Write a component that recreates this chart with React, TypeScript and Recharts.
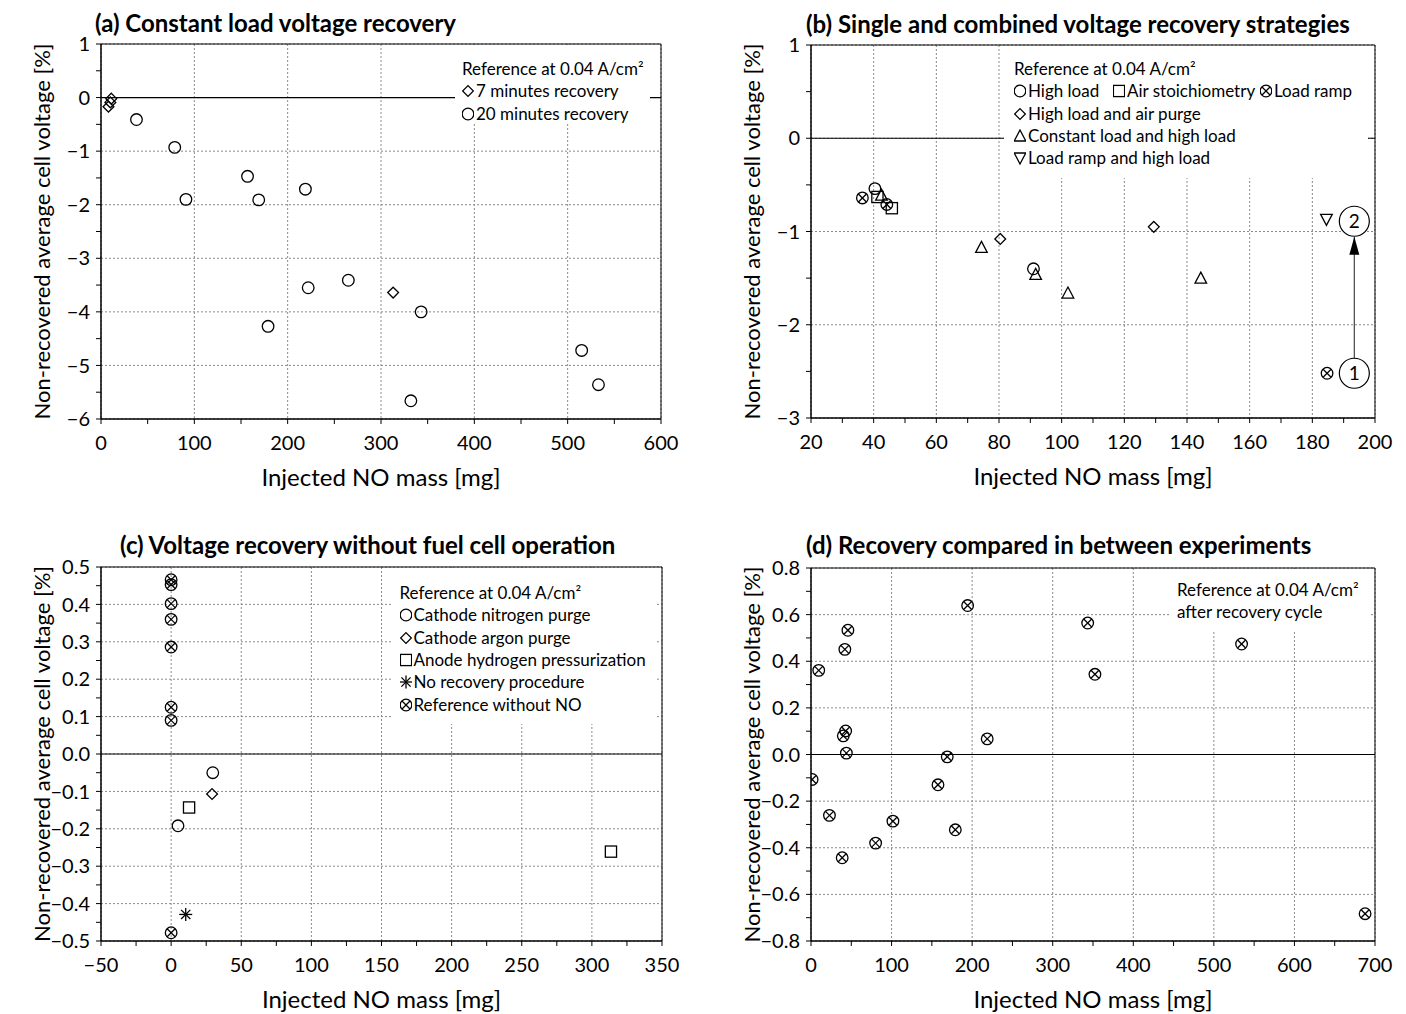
import React from "react";
import {
  ScatterChart,
  Scatter,
  XAxis,
  YAxis,
  CartesianGrid,
  ReferenceLine,
  ReferenceArea,
  Label,
} from "recharts";

const FONT = "Lato, 'Open Sans', sans-serif";

// (a) constant load voltage recovery  [NO mass mg, voltage %]
const aSevenMin = [[11, -0.02], [10, -0.09], [8, -0.17], [313, -3.64]];
const aTwentyMin = [
  [38, -0.41], [79, -0.93], [91, -1.9], [157, -1.47], [169, -1.91], [219, -1.71],
  [222, -3.55], [265, -3.41], [179, -4.27], [343, -4.0], [332, -5.66], [515, -4.72], [533, -5.36],
];

// (b) single and combined strategies
const bHighLoad = [[40.4, -0.54], [91, -1.4]];
const bAirStoich = [[41.2, -0.63], [45.8, -0.75]];
const bLoadRamp = [[36.4, -0.64], [44.2, -0.71], [184.7, -2.52]];
const bHighLoadAir = [[80.4, -1.08], [129.4, -0.95]];
const bConstHigh = [[42.5, -0.61], [74.4, -1.17], [91.7, -1.46], [102, -1.66], [144.4, -1.5]];
const bRampHigh = [[184.5, -0.87]];
const bSteps = [[193.4, -2.52, "1"], [193.4, -0.89, "2"]];
const bArrow = [[193.4, -2.36], [193.4, -1.055]];

// (c) recovery without fuel cell operation
const cNitrogen = [[29.7, -0.05], [4.9, -0.192]];
const cArgon = [[29.2, -0.107]];
const cHydrogen = [[12.8, -0.143], [313.6, -0.261]];
const cNoRecovery = [[10.4, -0.429]];
const cRefNoNO = [[0, 0.466], [0, 0.453], [0, 0.402], [0, 0.36], [0, 0.286], [0, 0.125], [0, 0.09], [0, -0.478]];

// (d) recovery compared between experiments
const dRef = [
  [194.4, 0.639], [45.8, 0.533], [42, 0.451], [9.6, 0.361], [343.4, 0.564], [352.4, 0.344],
  [534.4, 0.474], [43, 0.101], [40.1, 0.08], [43.9, 0.006], [218.7, 0.067], [169.1, -0.01],
  [1.4, -0.107], [157.6, -0.13], [22.9, -0.261], [101.7, -0.286], [179.1, -0.323],
  [80.2, -0.38], [38.7, -0.443], [687.7, -0.683],
];

// axis ticks (labelled ones; minor ticks go half way between)
const aXMajor = [0, 100, 200, 300, 400, 500, 600];
const aYMajor = [-6, -5, -4, -3, -2, -1, 0, 1];
const bXMajor = [20, 40, 60, 80, 100, 120, 140, 160, 180, 200];
const bYMajor = [-3, -2, -1, 0, 1];
const cXMajor = [-50, 0, 50, 100, 150, 200, 250, 300, 350];
const cYMajor = [-0.5, -0.4, -0.3, -0.2, -0.1, 0, 0.1, 0.2, 0.3, 0.4, 0.5];
const dXMajor = [0, 100, 200, 300, 400, 500, 600, 700];
const dYMajor = [-0.8, -0.6, -0.4, -0.2, 0, 0.2, 0.4, 0.6, 0.8];

const withMinor = (major: number[]) =>
  major.flatMap((v, i) => (i < major.length - 1 ? [v, (v + major[i + 1]) / 2] : [v]));

const pts = (arr: any[]) => arr.map((p) => ({ x: p[0], y: p[1], n: p[2] }));

const neg = (s: string) => s.replace("-", "\u2212");
const intFmt = (v: number) => neg(String(v));
const oneDec = (v: number) => neg(v.toFixed(1));

type Kind = "circle" | "diamond" | "square" | "cross" | "up" | "down" | "star";

function Mark({ kind, cx, cy }: { kind: Kind; cx: number; cy: number }) {
  const s = { fill: "none", stroke: "#000", strokeWidth: 1.3 };
  if (kind === "circle") return <circle cx={cx} cy={cy} r={5.8} {...s} />;
  if (kind === "diamond")
    return <polygon points={`${cx},${cy - 5.4} ${cx + 5.4},${cy} ${cx},${cy + 5.4} ${cx - 5.4},${cy}`} {...s} />;
  if (kind === "square") return <rect x={cx - 5.6} y={cy - 5.6} width={11.2} height={11.2} {...s} />;
  if (kind === "up")
    return <polygon points={`${cx},${cy - 6} ${cx + 5.8},${cy + 5} ${cx - 5.8},${cy + 5}`} {...s} />;
  if (kind === "down")
    return <polygon points={`${cx},${cy + 6} ${cx + 5.8},${cy - 5} ${cx - 5.8},${cy - 5}`} {...s} />;
  if (kind === "star")
    return (
      <g {...s}>
        <line x1={cx} y1={cy - 6.5} x2={cx} y2={cy + 6.5} />
        <line x1={cx - 6.5} y1={cy} x2={cx + 6.5} y2={cy} />
        <line x1={cx - 4.6} y1={cy - 4.6} x2={cx + 4.6} y2={cy + 4.6} />
        <line x1={cx - 4.6} y1={cy + 4.6} x2={cx + 4.6} y2={cy - 4.6} />
      </g>
    );
  return (
    <g {...s}>
      <circle cx={cx} cy={cy} r={5.8} />
      <line x1={cx - 4} y1={cy - 4} x2={cx + 4} y2={cy + 4} />
      <line x1={cx - 4} y1={cy + 4} x2={cx + 4} y2={cy - 4} />
    </g>
  );
}

const shapeOf = (kind: Kind) => (p: any) => <Mark kind={kind} cx={p.cx} cy={p.cy} />;

function Key({ kind, text, width }: { kind?: Kind; text: string; width?: number }) {
  return (
    <span style={{ display: "inline-flex", alignItems: "center", width }}>
      {kind && (
        <svg width={12} height={14} style={{ marginRight: 2, flex: "none" }}>
          <Mark kind={kind} cx={6} cy={7} />
        </svg>
      )}
      <span>{text}</span>
    </span>
  );
}

function LegendBox({ box, rows }: { box: any; rows: React.ReactNode[] }) {
  return (
    <div
      style={{
        position: "absolute",
        left: box.left,
        top: box.top,
        width: box.width,
        height: box.height,
        background: "#fff",
        boxSizing: "border-box",
        paddingTop: box.pt,
        paddingLeft: box.pl,
        fontFamily: FONT,
        fontSize: 17,
        color: "#000",
        whiteSpace: "nowrap",
      }}
    >
      {rows.map((r, i) => (
        <div key={i} style={{ height: 22.3, lineHeight: "22px", display: "flex", alignItems: "center" }}>
          {r}
        </div>
      ))}
    </div>
  );
}

function Panel(props: any) {
  const { left, top, title, titleLeft, titleTop, xMajor, yMajor, yFmt, mTop, mRight, mBottom, children, legend } = props;
  const xDom = [xMajor[0], xMajor[xMajor.length - 1]];
  const yDom = [yMajor[0], yMajor[yMajor.length - 1]];
  const tickStyle = { fontSize: 20, fill: "#000", fontFamily: FONT };
  return (
    <div style={{ position: "absolute", left, top, width: 696, height: 490 }}>
      <ScatterChart width={696} height={490} margin={{ top: mTop, right: mRight, bottom: mBottom, left: 0 }}>
        <CartesianGrid
          stroke="#8a8a8a"
          strokeDasharray="2 2"
          verticalValues={xMajor}
          horizontalValues={yMajor}
        />
        <XAxis
          type="number"
          dataKey="x"
          domain={xDom}
          ticks={withMinor(xMajor)}
          tickFormatter={(v: number) => (xMajor.includes(v) ? intFmt(v) : "")}
          interval={0}
          height={67}
          tickSize={5}
          tickMargin={12}
          tick={tickStyle}
          stroke="#000"
          allowDataOverflow
        >
          <Label
            value="Injected NO mass [mg]"
            position="insideBottom"
            offset={0}
            style={{ fontSize: 24, fill: "#000", fontFamily: FONT }}
          />
        </XAxis>
        <YAxis
          type="number"
          dataKey="y"
          domain={yDom}
          ticks={withMinor(yMajor)}
          tickFormatter={(v: number) => (yMajor.includes(v) ? yFmt(v) : "")}
          interval={0}
          width={101}
          tickSize={5}
          tickMargin={6}
          tick={tickStyle}
          stroke="#000"
          allowDataOverflow
        >
          <Label
            value="Non-recovered average cell voltage [%]"
            angle={-90}
            position="insideLeft"
            offset={42}
            style={{ fontSize: 22, fill: "#000", fontFamily: FONT, textAnchor: "middle" }}
          />
        </YAxis>
        <ReferenceLine y={0} stroke="#000" strokeWidth={1.2} />
        <ReferenceArea x1={xDom[0]} x2={xDom[1]} y1={yDom[0]} y2={yDom[1]} fill="none" stroke="#000" ifOverflow="visible" />
        {children}
      </ScatterChart>
      <div
        style={{
          position: "absolute",
          left: titleLeft,
          top: titleTop,
          fontFamily: FONT,
          fontWeight: 700,
          fontSize: 24,
          lineHeight: "28px",
          color: "#000",
          whiteSpace: "nowrap",
        }}
      >
        {title}
      </div>
      {legend}
    </div>
  );
}

const REF = "Reference at 0.04 A/cm²";

export default function App() {
  return (
    <div style={{ position: "absolute", left: 0, top: 0, width: 1406, height: 1014, background: "#fff" }}>
      <Panel
        left={0}
        top={0}
        title="(a) Constant load voltage recovery"
        titleLeft={95}
        titleTop={9}
        xMajor={aXMajor}
        yMajor={aYMajor}
        yFmt={intFmt}
        mTop={44}
        mRight={35}
        mBottom={4}
        legend={
          <LegendBox
            box={{ left: 455, top: 45, width: 195, height: 77, pt: 13, pl: 7 }}
            rows={[
              <Key text={REF} />,
              <Key kind="diamond" text="7 minutes recovery" />,
              <Key kind="circle" text="20 minutes recovery" />,
            ]}
          />
        }
      >
        <Scatter data={pts(aSevenMin)} shape={shapeOf("diamond")} isAnimationActive={false} />
        <Scatter data={pts(aTwentyMin)} shape={shapeOf("circle")} isAnimationActive={false} />
      </Panel>

      <Panel
        left={710}
        top={0}
        title="(b) Single and combined voltage recovery strategies"
        titleLeft={96}
        titleTop={10}
        xMajor={bXMajor}
        yMajor={bYMajor}
        yFmt={intFmt}
        mTop={45}
        mRight={31}
        mBottom={5}
        legend={
          <LegendBox
            box={{ left: 294, top: 46, width: 364, height: 132, pt: 12, pl: 10 }}
            rows={[
              <Key text={REF} />,
              <>
                <Key kind="circle" text="High load" width={99} />
                <Key kind="square" text="Air stoichiometry" width={147} />
                <Key kind="cross" text="Load ramp" />
              </>,
              <Key kind="diamond" text="High load and air purge" />,
              <Key kind="up" text="Constant load and high load" />,
              <Key kind="down" text="Load ramp and high load" />,
            ]}
          />
        }
      >
        <ReferenceLine segment={pts(bArrow)} stroke="#444" strokeWidth={1.2} />
        <Scatter
          data={pts(bArrow).slice(1)}
          shape={(p: any) => (
            <polygon points={`${p.cx},${p.cy} ${p.cx + 5},${p.cy + 18} ${p.cx - 5},${p.cy + 18}`} fill="#000" />
          )}
          isAnimationActive={false}
        />
        <Scatter
          data={pts(bSteps)}
          shape={(p: any) => (
            <g>
              <circle cx={p.cx} cy={p.cy} r={15} fill="#fff" stroke="#000" strokeWidth={1.2} />
              <text x={p.cx} y={p.cy + 7} textAnchor="middle" fontSize={19} fontFamily={FONT} fill="#000">
                {p.payload.n}
              </text>
            </g>
          )}
          isAnimationActive={false}
        />
        <Scatter data={pts(bLoadRamp)} shape={shapeOf("cross")} isAnimationActive={false} />
        <Scatter data={pts(bHighLoad)} shape={shapeOf("circle")} isAnimationActive={false} />
        <Scatter data={pts(bAirStoich)} shape={shapeOf("square")} isAnimationActive={false} />
        <Scatter data={pts(bHighLoadAir)} shape={shapeOf("diamond")} isAnimationActive={false} />
        <Scatter data={pts(bConstHigh)} shape={shapeOf("up")} isAnimationActive={false} />
        <Scatter data={pts(bRampHigh)} shape={shapeOf("down")} isAnimationActive={false} />
      </Panel>

      <Panel
        left={0}
        top={523}
        title="(c) Voltage recovery without fuel cell operation"
        titleLeft={120}
        titleTop={8}
        xMajor={cXMajor}
        yMajor={cYMajor}
        yFmt={oneDec}
        mTop={44}
        mRight={34}
        mBottom={5}
        legend={
          <LegendBox
            box={{ left: 393, top: 45, width: 262, height: 156, pt: 14, pl: 6.5 }}
            rows={[
              <Key text={REF} />,
              <Key kind="circle" text="Cathode nitrogen purge" />,
              <Key kind="diamond" text="Cathode argon purge" />,
              <Key kind="square" text="Anode hydrogen pressurization" />,
              <Key kind="star" text="No recovery procedure" />,
              <Key kind="cross" text="Reference without NO" />,
            ]}
          />
        }
      >
        <Scatter data={pts(cRefNoNO)} shape={shapeOf("cross")} isAnimationActive={false} />
        <Scatter data={pts(cNitrogen)} shape={shapeOf("circle")} isAnimationActive={false} />
        <Scatter data={pts(cArgon)} shape={shapeOf("diamond")} isAnimationActive={false} />
        <Scatter data={pts(cHydrogen)} shape={shapeOf("square")} isAnimationActive={false} />
        <Scatter data={pts(cNoRecovery)} shape={shapeOf("star")} isAnimationActive={false} />
      </Panel>

      <Panel
        left={710}
        top={523}
        title="(d) Recovery compared in between experiments"
        titleLeft={96}
        titleTop={8}
        xMajor={dXMajor}
        yMajor={dYMajor}
        yFmt={oneDec}
        mTop={45}
        mRight={31}
        mBottom={5}
        legend={
          <LegendBox
            box={{ left: 459, top: 46, width: 201, height: 62, pt: 9.5, pl: 8 }}
            rows={[<Key text={REF} />, <Key text="after recovery cycle" />]}
          />
        }
      >
        <Scatter data={pts(dRef)} shape={shapeOf("cross")} isAnimationActive={false} />
      </Panel>
    </div>
  );
}
